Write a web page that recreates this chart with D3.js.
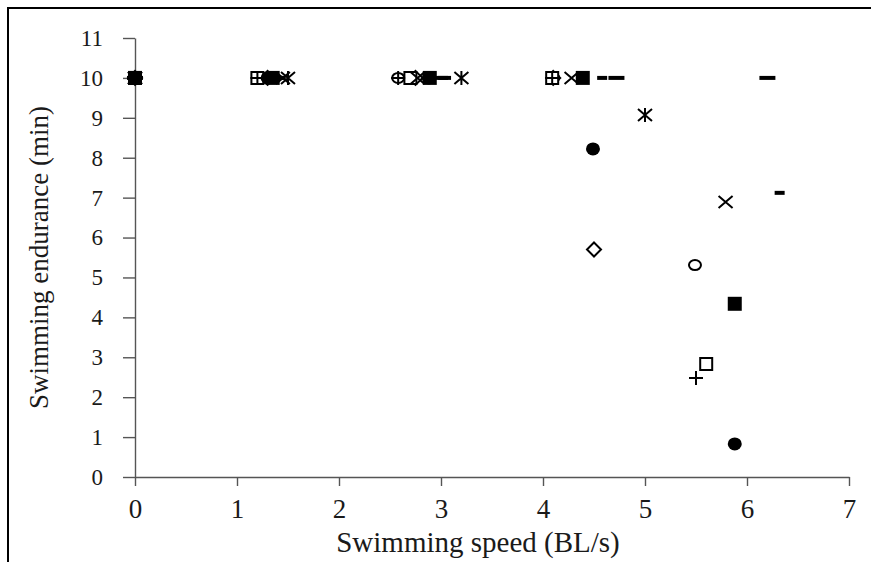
<!DOCTYPE html>
<html lang="en">
<head>
    <script src="https://d3js.org/d3.v7.min.js"></script>
    <style>
        body { margin: 0; background: #fff; }
        .axis path, .axis line { stroke: #555; stroke-width: 1.4px; }
    </style>
</head>
<body>
    <div id="chart"></div>

    <script>
        // Tick values
        const xTicks = [0, 1, 2, 3, 4, 5, 6, 7];
        const yTicks = [0, 1, 2, 3, 4, 5, 6, 7, 8, 9, 10, 11];

        // One array per marker series: [speed (BL/s), endurance (min)]
        const circleFilled = [[0, 10], [1.3, 10], [2.88, 10], [4.49, 8.22], [5.88, 0.83]];
        const diamondOpen  = [[0, 10], [1.3, 10], [2.75, 10], [4.1, 10], [4.5, 5.7]];
        const circleOpen   = [[0, 10], [1.25, 10], [2.58, 10], [4.1, 10], [5.49, 5.31]];
        const squareFilled = [[0, 10], [1.35, 10], [2.89, 10], [4.39, 10], [5.88, 4.34]];
        const squareOpen   = [[0, 10], [1.2, 10], [2.7, 10], [4.09, 10], [5.6, 2.83]];
        const plusMark     = [[0, 10], [1.2, 10], [2.58, 10], [4.09, 10], [5.5, 2.48]];
        const crossMark    = [[0, 10], [1.45, 10], [2.77, 10], [4.28, 10], [5.79, 6.89]];
        const asteriskMark = [[0, 10], [1.5, 10], [3.2, 10], [5.0, 9.07]];
        const longDash     = [[0, 10], [1.4, 10], [3.02, 10], [4.72, 10], [6.2, 10]];
        const shortDash    = [[0, 10], [1.4, 10], [3.02, 10], [4.58, 10], [6.32, 7.12]];

        const width = 871, height = 562;
        const margin = { left: 135, right: 22, top: 38, bottom: 85 };
        const serif = 'Liberation Serif, DejaVu Serif, serif';

        const svg = d3.select('#chart').append('svg')
            .attr('width', width)
            .attr('height', height)
            .attr('font-family', serif);

        svg.append('rect').attr('width', width).attr('height', height).attr('fill', '#fff');

        // frame of the original figure (top and left edge)
        svg.append('path')
            .attr('d', `M8,${height} V8 H${width}`)
            .attr('fill', 'none')
            .attr('stroke', '#000')
            .attr('stroke-width', 2);

        const x = d3.scaleLinear().domain([0, 7]).range([margin.left, width - margin.right]);
        const y = d3.scaleLinear().domain([0, 11]).range([height - margin.bottom, margin.top]);

        // axes
        const xAxis = svg.append('g')
            .attr('class', 'axis')
            .attr('transform', `translate(0,${y(0)})`)
            .call(d3.axisBottom(x).tickValues(xTicks).tickFormat(d3.format('d'))
                .tickSize(9).tickSizeOuter(0).tickPadding(13));
        xAxis.selectAll('text')
            .attr('font-family', serif)
            .attr('font-size', 27)
            .attr('fill', '#1a1a1a');

        const yAxis = svg.append('g')
            .attr('class', 'axis')
            .attr('transform', `translate(${x(0)},0)`)
            .call(d3.axisLeft(y).tickValues(yTicks).tickFormat(d3.format('d'))
                .tickSize(12).tickSizeOuter(0).tickPadding(20));
        yAxis.selectAll('text')
            .attr('font-family', serif)
            .attr('font-size', 23)
            .attr('fill', '#1a1a1a');

        // axis titles
        svg.append('text')
            .attr('x', (x(0) + x(7)) / 2 - 14)
            .attr('y', 552)
            .attr('text-anchor', 'middle')
            .attr('font-family', serif)
            .attr('font-size', 29)
            .attr('fill', '#1a1a1a')
            .text('Swimming speed (BL/s)');

        svg.append('text')
            .attr('transform', `translate(48,${(y(0) + y(11)) / 2}) rotate(-90)`)
            .attr('text-anchor', 'middle')
            .attr('font-family', serif)
            .attr('font-size', 27)
            .attr('fill', '#1a1a1a')
            .text('Swimming endurance (min)');

        // marker shapes
        const shapes = {
            diamond: { d: 'M0,-7L7,0L0,7L-7,0Z', fill: '#fff', stroke: 2 },
            circleOpen: { d: 'M-6,0A6,5 0 1,0 6,0A6,5 0 1,0 -6,0Z', fill: '#fff', stroke: 2 },
            squareOpen: { d: 'M-6,-6H6V6H-6Z', fill: '#fff', stroke: 2 },
            plus: { d: 'M-7,0H7M0,-7V7', fill: 'none', stroke: 2 },
            cross: { d: 'M-7,-6L7,6M-7,6L7,-6', fill: 'none', stroke: 2 },
            asterisk: { d: 'M-7,-6L7,6M-7,6L7,-6M0,-7V7', fill: 'none', stroke: 2 },
            longDash: { d: 'M-8,-2H8V2H-8Z', fill: '#000', stroke: 0 },
            shortDash: { d: 'M-5,-2H5V2H-5Z', fill: '#000', stroke: 0 },
            circleFilled: { d: 'M-7,0A7,6.5 0 1,0 7,0A7,6.5 0 1,0 -7,0Z', fill: '#000', stroke: 0 },
            squareFilled: { d: 'M-7,-7H7V7H-7Z', fill: '#000', stroke: 0 }
        };

        const seriesList = [
            { data: diamondOpen, shape: 'diamond' },
            { data: circleOpen, shape: 'circleOpen' },
            { data: squareOpen, shape: 'squareOpen' },
            { data: plusMark, shape: 'plus' },
            { data: crossMark, shape: 'cross' },
            { data: asteriskMark, shape: 'asterisk' },
            { data: longDash, shape: 'longDash' },
            { data: shortDash, shape: 'shortDash' },
            { data: circleFilled, shape: 'circleFilled' },
            { data: squareFilled, shape: 'squareFilled' }
        ];

        seriesList.forEach(s => {
            const sh = shapes[s.shape];
            svg.append('g').selectAll('path')
                .data(s.data)
                .join('path')
                .attr('transform', d => `translate(${x(d[0])},${y(d[1])})`)
                .attr('d', sh.d)
                .attr('fill', sh.fill)
                .attr('stroke', '#000')
                .attr('stroke-width', sh.stroke);
        });
    </script>
</body>
</html>
